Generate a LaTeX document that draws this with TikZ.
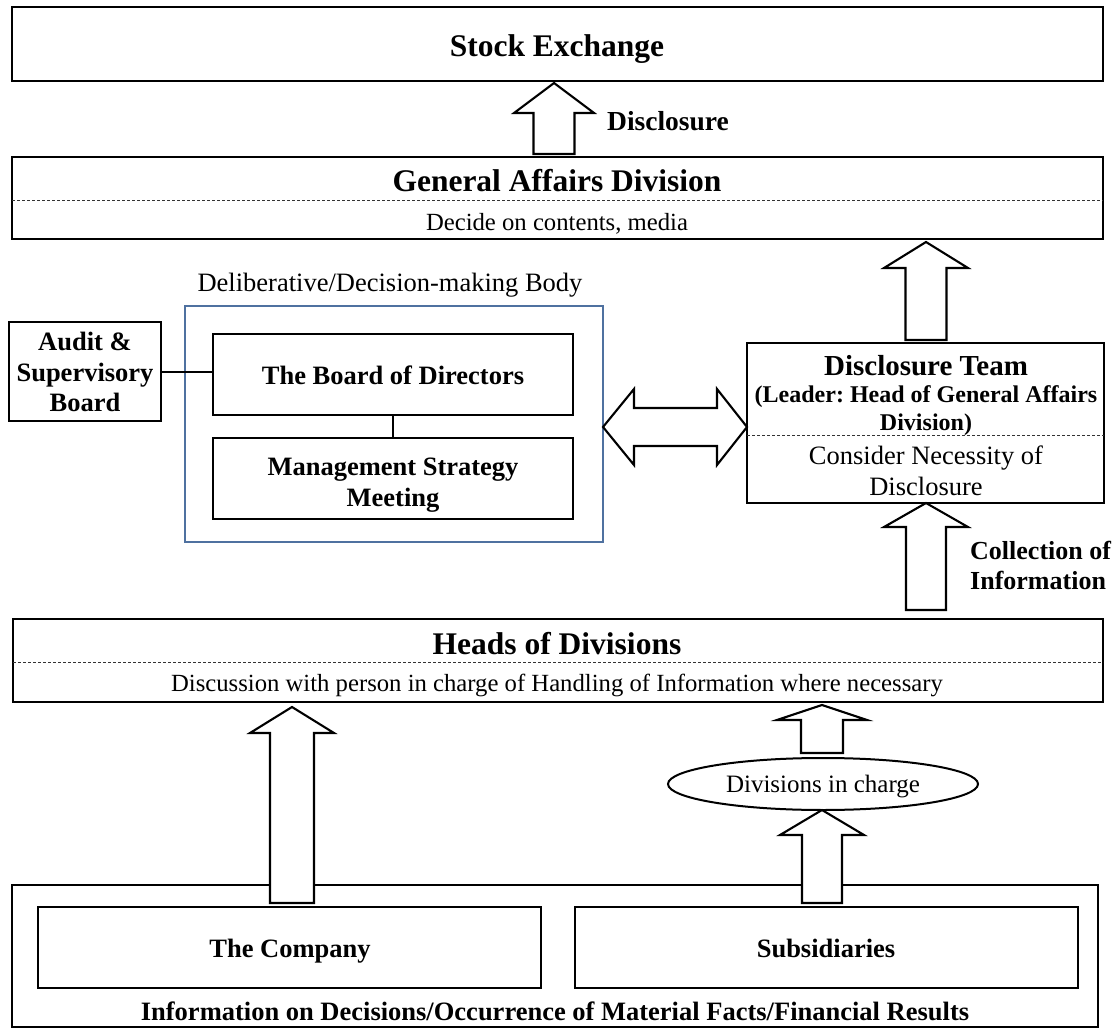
\documentclass[tikz,border=0pt]{standalone}
\usepackage{fontspec}
\setmainfont{Liberation Serif}
\usetikzlibrary{shapes.geometric}
\definecolor{bodyblue}{RGB}{79,113,160}
\frenchspacing
% block up-arrow: x, ybottom, ytip, shaft half width, head half width, head length
\newcommand\blkup[6]{%
  \draw[blk] (#1-#4,#2) -- (#1-#4,#3+#6) -- (#1-#5,#3+#6) -- (#1,#3)
    -- (#1+#5,#3+#6) -- (#1+#4,#3+#6) -- (#1+#4,#2) -- cycle;}
\begin{document}
\frenchspacing
\begin{tikzpicture}[x=1pt,y=-1pt,
  box/.style={draw,line width=2.3pt,inner sep=0pt,outer sep=0pt,anchor=north west},
  dsh/.style={line width=0.9pt,dash pattern=on 3pt off 2pt,draw=black!80},
  blk/.style={draw,line width=2.1pt,fill=white,line join=miter},
  conn/.style={line width=2pt},
  ttl/.style={font=\fontsize{31.5pt}{36pt}\selectfont\bfseries,inner sep=0pt,anchor=base},
  bld/.style={font=\fontsize{26.5pt}{30.5pt}\selectfont\bfseries,inner sep=0pt,align=center},
  reg/.style={font=\fontsize{25pt}{30pt}\selectfont,inner sep=0pt,align=center},
]
\useasboundingbox (0,0) rectangle (1120,1030);
\fill[white] (0,0) rectangle (1120,1030);

% Stock exchange
\node[box,minimum width=1091pt,minimum height=74pt] (se) at (12,7) {};
\node[ttl] (setxt) at (557,57) {Stock Exchange};

% General Affairs Division
\node[box,minimum width=1091pt,minimum height=82pt] (gad) at (12,157) {};
\draw[dsh] (12,200) -- (1103,200);
\node[ttl] (gadtxt) at (557,192) {General Affairs Division};
\node[reg,anchor=base,font=\fontsize{24.7pt}{29pt}\selectfont] (gadsub) at (557,230) {Decide on contents, media};

% Disclosure label
\node[bld,anchor=base,font=\fontsize{27.5pt}{31pt}\selectfont\bfseries] (disc) at (668,131) {Disclosure};

% Deliberative body
\node[reg,anchor=base,font=\fontsize{26.5pt}{30pt}\selectfont] (delib) at (390,291) {Deliberative/Decision-making Body};
\node[box,draw=bodyblue,line width=2pt,minimum width=418pt,minimum height=236pt] (blue) at (185,306) {};
\node[box,minimum width=360pt,minimum height=81pt] (board) at (213,334) {};
\node[bld,anchor=base] (boardtxt) at (393,384) {The Board of Directors};
\node[box,minimum width=360pt,minimum height=81pt] (msm) at (213,438) {};
\node[bld] (msmtxt) at (393,485) {Management Strategy\\Meeting};

% Audit
\node[box,minimum width=152pt,minimum height=99pt] (audit) at (9,322) {};
\node[bld] (audittxt) at (85,372) {Audit \&\\Supervisory\\Board};

\draw[conn] (audit.east) -- (audit.east -| board.west);
\draw[conn] (board.south) -- (msm.north);

% Disclosure team
\node[box,minimum width=357pt,minimum height=160pt] (dt) at (747,343) {};
\draw[dsh] (747,435) -- (1104,435);
\node[bld,anchor=base,font=\fontsize{29pt}{33pt}\selectfont\bfseries] (dttxt) at (926,375) {Disclosure Team};
\node[bld,font=\fontsize{24pt}{28pt}\selectfont\bfseries] (dtlead) at (926,411) {(Leader: Head of General Affairs\\Division)};
\node[reg,font=\fontsize{26.5pt}{31pt}\selectfont] (dtsub) at (926,470.5) {Consider Necessity of\\Disclosure};

% Collection label
\node[bld,font=\fontsize{26pt}{30pt}\selectfont\bfseries,align=left,anchor=west] (coll) at (970,565) {Collection of\\Information};

% Heads of Divisions
\node[box,minimum width=1090pt,minimum height=83pt] (hod) at (13,619) {};
\draw[dsh] (13,662) -- (1103,662);
\node[ttl] (hodtxt) at (557,654) {Heads of Divisions};
\node[reg,anchor=base,font=\fontsize{24.7pt}{29pt}\selectfont] (hodsub) at (557,691) {Discussion with person in charge of Handling of Information where necessary};

% Divisions in charge
\node[draw,ellipse,line width=2pt,minimum width=310pt,minimum height=52pt,inner sep=0pt] (divs) at (823,784) {};
\node[reg,anchor=base] (divstxt) at (823,792) {Divisions in charge};

% bottom area
\node[box,minimum width=1086pt,minimum height=142pt] (outer) at (12,885) {};
\node[box,minimum width=503pt,minimum height=81pt] (comp) at (38,907) {};
\node[bld,anchor=base] (comptxt) at (290,957) {The Company};
\node[box,minimum width=503pt,minimum height=81pt] (subs) at (575,907) {};
\node[bld,anchor=base] (substxt) at (826,957) {Subsidiaries};
\node[bld,anchor=base] (info) at (555,1020) {Information on Decisions/Occurrence of Material Facts/Financial Results};

% block arrows
\blkup{554}{154}{83}{20.5}{40}{30}
\blkup{926}{340}{242}{20.5}{42}{26}
\blkup{926}{610}{503}{20}{42}{24}
\blkup{292}{903}{707}{22}{42}{26}
\blkup{822}{753}{705}{21}{45}{15}
\blkup{822}{903}{810}{20}{42}{25}

% double arrow between body and team
\draw[blk] (blue.east |- 0,427) -- (634,389) -- (634,408) -- (717,408) -- (717,389)
  -- (dt.west |- 0,427) -- (717,465) -- (717,446) -- (634,446) -- (634,465) -- cycle;
\end{tikzpicture}
\end{document}
